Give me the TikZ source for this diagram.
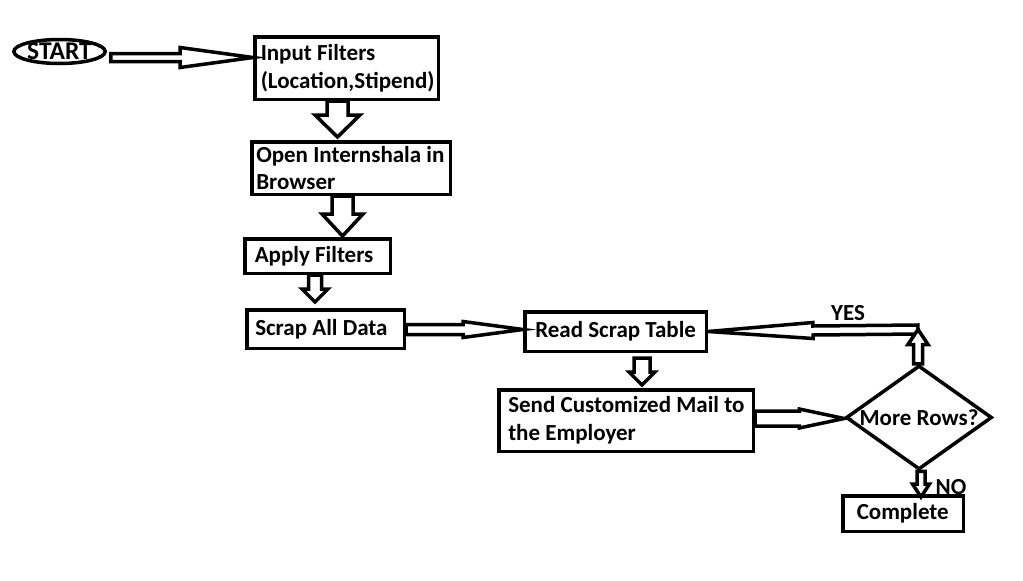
\documentclass[tikz,border=0pt]{standalone}
\usepackage{fontspec}
\setmainfont{Carlito}
\usetikzlibrary{calc,shapes.geometric}
% block arrow: #1 from, #2 to, #3 shaft half width, #4 head half width, #5 head length
\newcommand\blockarr[5]{%
  \coordinate (bahd) at ($(#2)!#5pt!(#1)$);
  \draw[barrow] ($(#1)!#3pt!90:(#2)$) -- ($(bahd)!#3pt!90:(#2)$) -- ($(bahd)!#4pt!90:(#2)$) -- (#2)
     -- ($(bahd)!#4pt!-90:(#2)$) -- ($(bahd)!#3pt!-90:(#2)$) -- ($(#1)!#3pt!-90:(#2)$) -- cycle;
}
\newcommand\txtline[1]{\mbox{#1}}
\tikzset{
  box/.style={draw, rectangle, fill=white, inner ysep=0pt, align=flush left},
  barrow/.style={draw, fill=white, line join=miter},
  lbl/.style={inner sep=0pt}
}
\begin{document}
\begin{tikzpicture}[x=1pt, y=-1pt, line width=3.5pt,
  font=\fontsize{23}{27.8}\selectfont\bfseries]
\fill[white] (0,0) rectangle (1023,581);
\useasboundingbox (0,0) rectangle (1023,581);

% nodes
\node[draw, ellipse, inner sep=0pt, minimum width=84pt, minimum height=24pt,
  font=\fontsize{25.5}{28}\selectfont\bfseries] (start) at (59.5,51.5) {START};
\node[box, inner xsep=6pt, text width=171.5pt, minimum height=62.5pt] (input) at (346.5,68) {\txtline{Input Filters}\\\txtline{(Location,Stipend)}};
\node[box, inner xsep=4.5pt, text width=189.5pt, minimum height=52.5pt] (open) at (351,168) {\txtline{Open Internshala in}\\\txtline{Browser}};
\node[box, inner xsep=10pt, text width=125.5pt, minimum height=34.5pt] (apply) at (317.5,256) {\txtline{Apply Filters}};
\node[box, inner xsep=8.5pt, text width=140.5pt, minimum height=38.5pt] (scrap) at (325.5,329) {\txtline{Scrap All Data}};
\node[box, inner xsep=10.5pt, text width=160.5pt, minimum height=39.5pt] (read) at (615.5,331.5) {\txtline{Read Scrap Table}};
\node[box, inner xsep=9.5pt, text width=235.5pt, minimum height=61.5pt] (send) at (626,420.5) {\txtline{Send Customized Mail to}\\\txtline{the Employer}};
\node[box, inner xsep=14pt, text width=92.5pt, minimum height=35.5pt] (complete) at (903,513.5) {\txtline{Complete}};
\node[draw, diamond, fill=white, inner sep=0pt, minimum width=146pt, minimum height=104pt] (dec) at (919,417.5) {\makebox[0pt]{More Rows?}};

% connector coordinates
\coordinate (a1s) at ($(start.east)+(4,6)$);
\coordinate (a1e) at (input.west |- a1s);
\coordinate (a2s) at ($(input.south)+(-9,0)$);
\coordinate (a2e) at ($(a2s |- open.north)+(0,-3)$);
\coordinate (a3s) at ($(open.south)+(-8.5,0)$);
\coordinate (a3e) at ($(a3s |- apply.north)+(0,-1)$);
\coordinate (a4s) at ($(apply.south)+(-2.5,0)$);
\coordinate (a4e) at ($(a4s |- scrap.north)+(0,-6)$);
\coordinate (a5s) at ($(scrap.east)+(0,0.5)$);
\coordinate (a5e) at (read.west |- a5s);
\coordinate (a6s) at ($(read.south)+(26.5,5)$);
\coordinate (a6e) at ($(a6s |- send.north)+(0,-3)$);
\coordinate (a7s) at ($(send.east)+(0,-2)$);
\coordinate (a7e) at (dec.west |- a7s);
\coordinate (yc) at ($(dec.north |- read.east)+(-1,-2)$);
\coordinate (a8s) at ($(dec.north)+(-1,0)$);
\coordinate (a8e) at ($(yc)+(0,0)$);
\coordinate (a10s) at ($(dec.south)+(2,0)$);
\coordinate (a10e) at ($(a10s |- complete.north)+(0,3)$);

% connectors
\blockarr{a1s}{a1e}{4}{10}{73}
\blockarr{a2s}{a2e}{10.5}{22.5}{22}
\blockarr{a3s}{a3e}{10.5}{20.5}{22}
\blockarr{a4s}{a4e}{6.5}{13}{13}
\blockarr{a5s}{a5e}{5}{8}{60}
\blockarr{a6s}{a6e}{8}{13}{13}
\blockarr{a7s}{a7e}{7.5}{9.5}{45}
\blockarr{yc}{read.east}{4.5}{8}{105}
\blockarr{a8s}{a8e}{4.5}{10}{15}
\blockarr{a10s}{a10e}{4}{8.5}{13}

% labels
\node[lbl] (yes) at (848,313) {YES};
\node[lbl] (no) at (951,487) {NO};
\end{tikzpicture}
\end{document}
